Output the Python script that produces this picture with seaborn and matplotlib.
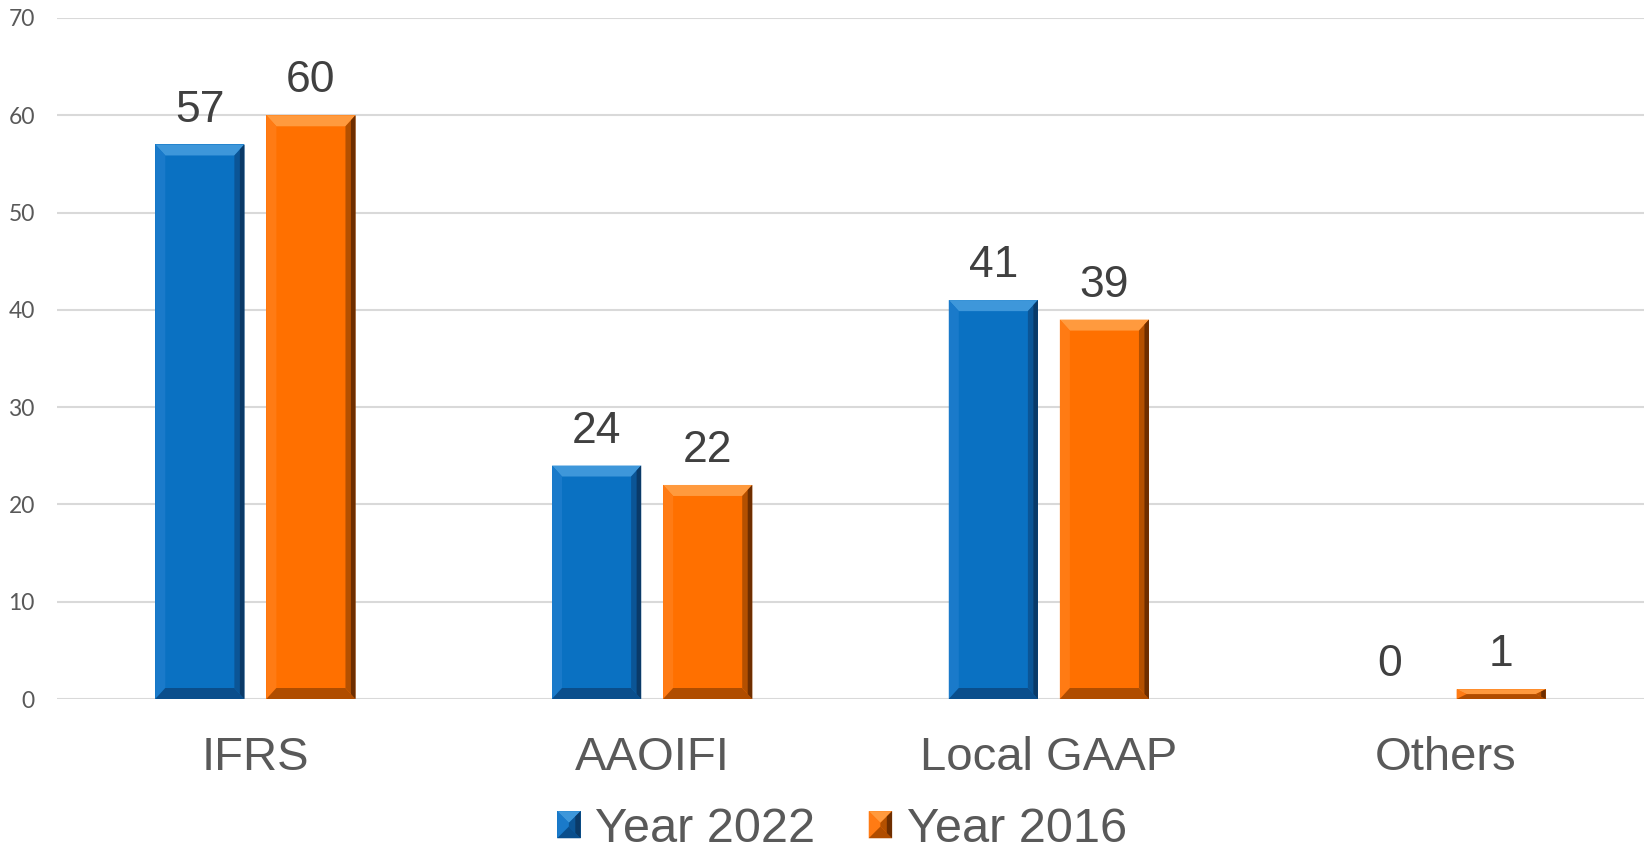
import matplotlib
matplotlib.use("Agg")
import matplotlib.pyplot as plt
from matplotlib.patches import Polygon, Patch, Rectangle
from matplotlib.legend_handler import HandlerPatch
import pandas as pd
import seaborn as sns

# Data
standards = ["IFRS", "AAOIFI", "Local GAAP", "Others"]
year_2022 = [57, 24, 41, 0]
year_2016 = [60, 22, 39, 1]
series_names = ["Year 2022", "Year 2016"]
y_ticks = [0, 10, 20, 30, 40, 50, 60, 70]

df = pd.DataFrame({
    "standard": standards * 2,
    "count": year_2022 + year_2016,
    "year": [series_names[0]] * len(standards) + [series_names[1]] * len(standards),
})

BLUE = "#0A71C2"
ORANGE = "#FF7000"
BEVEL = {
    BLUE: dict(top="#3E97DA", left="#1A7ACA", right="#0A3A68", right_in="#0B5596", bottom="#0A4E8C"),
    ORANGE: dict(top="#FF9A3E", left="#FF7B14", right="#6E2E00", right_in="#B45000", bottom="#B04D00"),
}


def bevel_polys(x0, y0, w, h, dx, dy, c):
    x1, y1 = x0 + w, y0 + h
    return [
        ([(x0, y1), (x1, y1), (x1 - dx, y1 - dy), (x0 + dx, y1 - dy)], c["top"]),
        ([(x0, y0), (x0, y1), (x0 + dx, y1 - dy), (x0 + dx, y0 + dy)], c["left"]),
        ([(x0, y0), (x1, y0), (x1 - dx, y0 + dy), (x0 + dx, y0 + dy)], c["bottom"]),
        ([(x1, y0), (x1, y1), (x1 - dx, y1 - dy), (x1 - dx, y0 + dy)], c["right_in"]),
        ([(x1, y0), (x1, y1), (x1 - dx * 0.45, y1 - dy * 0.45), (x1 - dx * 0.45, y0 + dy * 0.45)], c["right"]),
    ]


class BevelHandler(HandlerPatch):
    def create_artists(self, legend, orig_handle, xdescent, ydescent, width, height, fontsize, trans):
        face = orig_handle.get_facecolor()
        key = BLUE if face[2] > face[0] else ORANGE
        c = BEVEL[key]
        x0, y0 = -xdescent, -ydescent
        arts = [Rectangle((x0, y0), width, height, facecolor=key, edgecolor="none", transform=trans)]
        d = width * 0.5
        for pts, col in bevel_polys(x0, y0, width, height, d, d, c):
            arts.append(Polygon(pts, closed=True, facecolor=col, edgecolor="none", transform=trans))
        return arts


sns.set_theme(style="white")
plt.rcParams["font.family"] = ["Liberation Sans", "DejaVu Sans"]

fig = plt.figure(figsize=(16.49, 8.52), dpi=100)
ax = fig.add_axes([57 / 1649, 1 - 699 / 852, (1644 - 57) / 1649, (699 - 18) / 852])

sns.barplot(data=df, x="standard", y="count", hue="year", hue_order=series_names,
            palette=[BLUE, ORANGE], width=0.56, gap=0.198, dodge=True,
            saturation=1, legend=False, ax=ax, linewidth=0, zorder=3)

ax.set_xlim(-0.5, len(standards) - 0.5)
ax.set_ylim(0, 70)
ax.set_yticks(y_ticks)
ax.set_yticklabels([str(t) for t in y_ticks], family=["Lato", "DejaVu Sans"],
                   fontsize=16.5, color="#595959")
ax.tick_params(axis="y", length=0, pad=16)
ax.tick_params(axis="x", length=0, pad=27, labelsize=34, labelcolor="#595959")
ax.set_xlabel("")
ax.set_ylabel("")
ax.yaxis.grid(True, color="#D9D9D9", linewidth=1.5, zorder=0)
ax.xaxis.grid(False)
for s in ax.spines.values():
    s.set_visible(False)
ax.set_axisbelow(True)

# Bevelled bar edges
px_x = len(standards) / ax.bbox.width
px_y = 70 / ax.bbox.height
bx, by = 10 * px_x, 11 * px_y
for container, face in zip(ax.containers, [BLUE, ORANGE]):
    c = BEVEL[face]
    for bar in container:
        x0, w, h = bar.get_x(), bar.get_width(), bar.get_height()
        if h <= 0:
            continue
        for pts, col in bevel_polys(x0, 0, w, h, min(bx, w / 2), min(by, h / 2), c):
            ax.add_patch(Polygon(pts, closed=True, facecolor=col, edgecolor="none", zorder=4))

# Value labels
for container in ax.containers:
    ax.bar_label(container, fmt="%d", padding=10, fontsize=32, color="#404040", zorder=5)

handles = [Patch(facecolor=BLUE), Patch(facecolor=ORANGE)]
fig.legend(handles, series_names, loc="lower center", bbox_to_anchor=(842 / 1649, 0.0),
           ncol=2, frameon=False, fontsize=35, labelcolor="#595959",
           borderpad=0.0, borderaxespad=0.0,
           handlelength=0.48, handleheight=0.48, handletextpad=0.3, columnspacing=1.1,
           handler_map={Patch: BevelHandler()})

fig.savefig("out.png", dpi=100)
